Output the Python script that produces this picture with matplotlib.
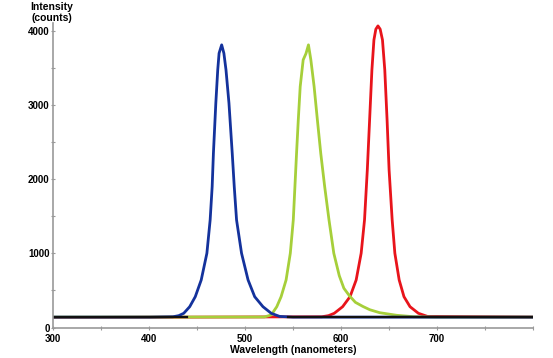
import matplotlib
matplotlib.use("Agg")
import matplotlib.pyplot as plt
import numpy as np

# ------------------------------------------------------------
# DATA
# ------------------------------------------------------------
blue_wl = [300, 400, 425, 431, 436.2, 442.4, 448.2, 454.4, 460.3, 463.7,
           465.8, 467.1, 469.6, 471.6, 473, 475.7, 478, 480.2, 483.3, 486.7,
           488.8, 491.2, 496.4, 503.2, 510.1, 518.7, 527.3, 536, 550, 600,
           700, 800]
blue_int = [140, 140, 145, 160, 192, 281, 416, 642, 1003, 1453,
            1903, 2354, 3030, 3480, 3705, 3818, 3705, 3480, 3030, 2354,
            1903, 1453, 1003, 642, 416, 281, 192, 150, 140, 140,
            140, 140]

green_wl = [300, 520, 527.3, 533.1, 537.6, 542.8, 547.2, 550.3, 552, 553.7,
            555.5, 557.5, 560.6, 563.5, 566.1, 568.6, 572, 575.4, 578.9, 583,
            587.5, 592.5, 598.2, 603, 608.7, 615, 622.7, 630, 640.3, 657.9,
            675.4, 700, 800]
green_int = [140, 142, 169, 281, 416, 642, 1003, 1453, 1903, 2354,
             2804, 3254, 3615, 3700, 3818, 3615, 3254, 2804, 2354, 1903,
             1453, 1003, 700, 530, 430, 340, 285, 240, 200, 165,
             146, 140, 140]

red_wl = [300, 580, 587, 593, 601.7, 609.4, 615.8, 621, 624.5, 627.4,
          629.8, 632.2, 634.3, 636.3, 638.5, 640.8, 643.2, 645.6, 648, 650.1,
          653.3, 656.1, 660.6, 665.6, 671.9, 680.6, 690, 800]
red_int = [135, 145, 160, 192, 281, 416, 642, 1003, 1453, 2128,
           2804, 3480, 3885, 4030, 4074, 4030, 3885, 3480, 2804, 2128,
           1453, 1003, 642, 416, 281, 192, 150, 140]

# dark trace lying on the baseline (gap where the red baseline shows)
black_wl = [300, 440, 440, 545, 545, 800]
black_int = [140, 140, np.nan, np.nan, 140, 140]

x_ticks = [300, 350, 400, 450, 500, 550, 600, 650, 700, 750, 800]
x_labels = ["300", "", "400", "", "500", "", "600", "", "700", "", ""]
y_ticks = [0, 1000, 2000, 3000, 4000]

# ------------------------------------------------------------
# PLOT
# ------------------------------------------------------------
plt.rcParams["font.family"] = ["Liberation Sans", "DejaVu Sans"]

fig = plt.figure(figsize=(5.53, 3.58), dpi=100)
ax = fig.add_axes([53 / 553, 30.5 / 358, 480 / 553, 305 / 358])

ax.plot(red_wl, red_int, color="#e8141b", lw=2.0)
ax.plot(green_wl, green_int, color="#a6cf3a", lw=2.0)
ax.plot(blue_wl, blue_int, color="#14329c", lw=2.0)
ax.plot(black_wl, black_int, color="#111111", lw=1.6)

ax.set_xlim(300, 800)
ax.set_ylim(0, 4120)

ax.set_xticks(x_ticks)
ax.set_xticklabels(x_labels)
ax.set_yticks(y_ticks)
ax.set_yticks([500, 1500, 2500, 3500], minor=True)

for lab in ax.get_xticklabels() + ax.get_yticklabels():
    lab.set_fontweight("bold")
    lab.set_fontsize(7)

ax.tick_params(axis="both", which="both", color="#999999", length=3,
               width=0.8, direction="inout")
ax.tick_params(axis="x", pad=3)
ax.tick_params(axis="y", pad=1)

for side in ["top", "right"]:
    ax.spines[side].set_visible(False)
for side in ["left", "bottom"]:
    ax.spines[side].set_color("#999999")
    ax.spines[side].set_linewidth(1.2)

ax.set_xlabel("Wavelength (nanometers)", fontsize=7.5, fontweight="bold",
              labelpad=1)
fig.text(52 / 553, 1 - 7 / 358, "Intensity", ha="center", va="center",
         fontsize=7.5, fontweight="bold")
fig.text(52 / 553, 1 - 18 / 358, "(counts)", ha="center", va="center",
         fontsize=7.5, fontweight="bold")

fig.savefig("out.png", dpi=100)
plt.close(fig)
